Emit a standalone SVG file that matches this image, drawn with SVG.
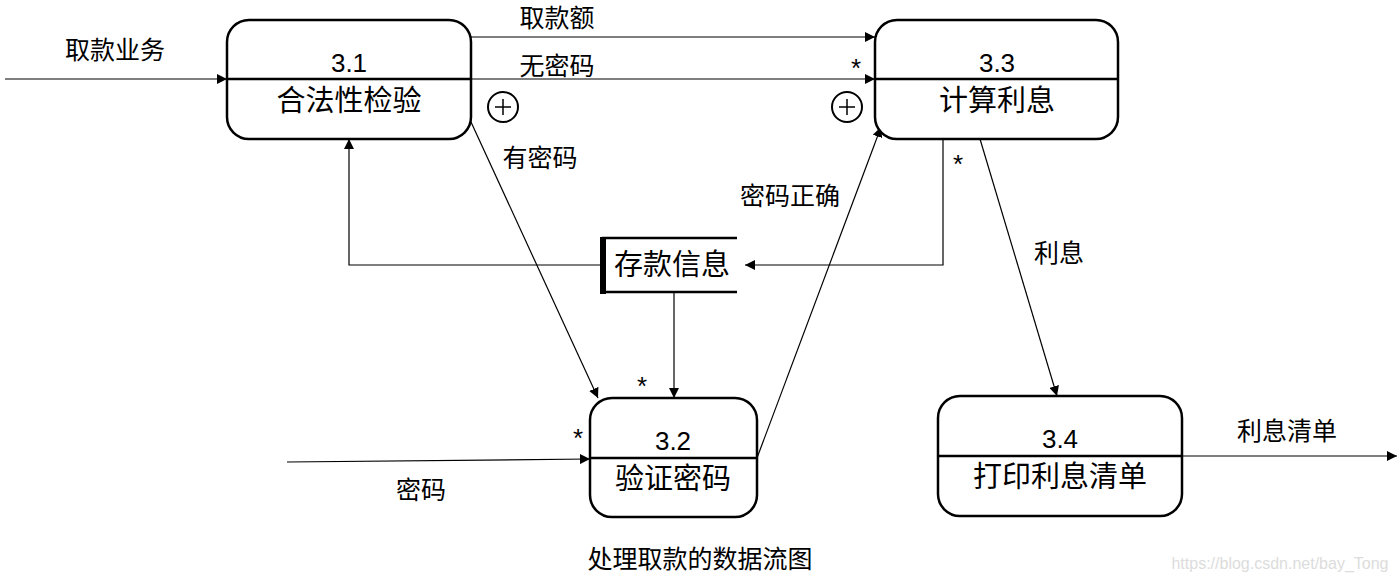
<svg xmlns="http://www.w3.org/2000/svg" width="1399" height="579" viewBox="0 0 1399 579">
<defs>
<marker id="arr" viewBox="0 0 10 10" refX="10" refY="5" markerWidth="10" markerHeight="10" markerUnits="userSpaceOnUse" orient="auto">
<path d="M0,0 L10,5 L0,10 Z" fill="#000"/>
</marker>
<style>
.box{fill:#fff;stroke:#000;stroke-width:2.5}
.div{stroke:#000;stroke-width:2.5}
.num{font-family:"Liberation Sans","Noto Sans CJK SC",sans-serif;font-size:26px;text-anchor:middle;fill:#000}
.nt{font-family:"Noto Sans CJK SC",sans-serif;font-size:29px;text-anchor:middle;fill:#000}
.lb{font-family:"Noto Sans CJK SC",sans-serif;font-size:25px;text-anchor:middle;fill:#000}
.st{font-family:"Liberation Sans",sans-serif;font-size:26px;text-anchor:middle;fill:#000}
.ln{fill:none;stroke:#000;stroke-width:1.2;marker-end:url(#arr)}
.pl{fill:none;stroke:#000;stroke-width:1.5}
.cir{fill:#fff;stroke:#000;stroke-width:2}
</style>
</defs>
<rect width="1399" height="579" fill="#fff"/>
<g id="connectors">
<line class="ln" x1="5" y1="79" x2="227" y2="79"/>
<line class="ln" x1="471" y1="37" x2="875" y2="37"/>
<line class="ln" x1="471" y1="79" x2="875" y2="79"/>
<line class="ln" x1="471" y1="122" x2="598" y2="398"/>
<line class="ln" x1="757" y1="458" x2="881" y2="127"/>
<polyline class="ln" points="943,139 943,265 745,265"/>
<polyline class="ln" points="600,265 349,265 349,139"/>
<line class="ln" x1="674" y1="293" x2="674" y2="398"/>
<line class="ln" x1="287" y1="462" x2="590" y2="459"/>
<line class="ln" x1="980" y1="139" x2="1057" y2="396"/>
<line class="ln" x1="1182" y1="456" x2="1397" y2="456"/>
<circle class="cir" cx="503" cy="107" r="15"/>
<path class="pl" d="M495,107 H511 M503,99 V115"/>
<circle class="cir" cx="847" cy="107" r="15"/>
<path class="pl" d="M839,107 H855 M847,99 V115"/>
<text class="lb" x="115" y="59">取款业务</text>
<text class="lb" x="557" y="27">取款额</text>
<text class="lb" x="557" y="75">无密码</text>
<text class="lb" x="540" y="167">有密码</text>
<text class="lb" x="790" y="205">密码正确</text>
<text class="lb" x="1059" y="262">利息</text>
<text class="lb" x="421" y="499">密码</text>
<text class="lb" x="1287" y="440">利息清单</text>
<text class="st" x="856" y="77">*</text>
<text class="st" x="958" y="173">*</text>
<text class="st" x="642" y="395">*</text>
<text class="st" x="578" y="447">*</text>
</g>
<g id="node-3.1">
<rect class="box" x="227" y="20" width="244" height="119" rx="22"/>
<line class="div" x1="227" y1="79" x2="471" y2="79"/>
<text class="num" x="349" y="72">3.1</text>
<text class="nt" x="349" y="111">合法性检验</text>
</g>
<g id="node-3.3">
<rect class="box" x="875" y="20" width="243" height="119" rx="22"/>
<line class="div" x1="875" y1="79" x2="1118" y2="79"/>
<text class="num" x="997" y="72">3.3</text>
<text class="nt" x="997" y="111">计算利息</text>
</g>
<g id="node-3.2">
<rect class="box" x="590" y="398" width="167" height="119" rx="22"/>
<line class="div" x1="590" y1="458" x2="757" y2="458"/>
<text class="num" x="673" y="450">3.2</text>
<text class="nt" x="673" y="489">验证密码</text>
</g>
<g id="node-3.4">
<rect class="box" x="938" y="396" width="244" height="120" rx="22"/>
<line class="div" x1="938" y1="456" x2="1182" y2="456"/>
<text class="num" x="1060" y="448">3.4</text>
<text class="nt" x="1060" y="487">打印利息清单</text>
</g>
<g id="store-deposit">
<rect x="600" y="238" width="137" height="55" fill="#fff"/>
<path d="M737,238 H603 V292 H737" fill="none" stroke="#000" stroke-width="2.5"/>
<rect x="600" y="237" width="6" height="57" fill="#000"/>
<text class="nt" x="672" y="275">存款信息</text>
</g>
<text class="lb" x="700" y="568">处理取款的数据流图</text>
<text x="1280" y="569" font-family="Liberation Sans,sans-serif" font-size="16" text-anchor="middle" fill="#dcdcdc">https://blog.csdn.net/bay_Tong</text>
</svg>
